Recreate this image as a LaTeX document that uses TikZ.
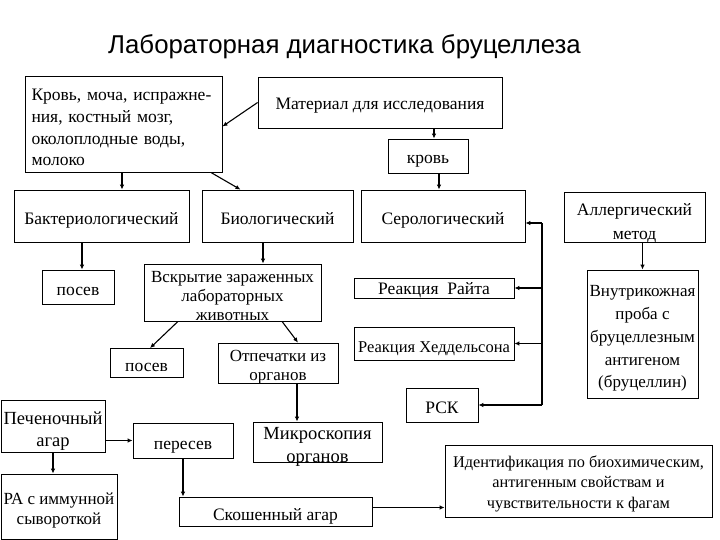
\documentclass[tikz,border=0pt]{standalone}
\usepackage{fontspec}
\setmainfont{Liberation Serif}
\newfontfamily\titlefont{Liberation Sans}
\usetikzlibrary{arrows.meta,calc}
\newcommand\mytopstrut[1]{\rule{0pt}{\dimexpr0.7\baselineskip+#1\relax}}
\begin{document}
\begin{tikzpicture}[x=1pt,y=-1pt,
  bxz/.style={draw,line width=0.8pt,inner sep=0pt,align=center,font=\fontsize{17.5}{20}\selectfont},
  bx0/.style={bxz,execute at end node=\strut},
  dn/.style={execute at begin node={\mytopstrut{#1}}},
  bx/.style={bx0,dn=9pt},
  txt/.style={inner sep=0pt,align=center},
  arr/.style={line width=1.1pt,-{Latex[length=5pt,width=4.5pt]}},
  ln/.style={line width=1.1pt}]
\useasboundingbox (0,0) rectangle (720,540);
\fill[white] (0,0) rectangle (720,540);
\node[font=\titlefont\fontsize{25.8}{30}\selectfont] (title) at (344.5,47) {Лабораторная диагностика бруцеллеза};
% boxes
\node[bx,align=left,text width=184pt,inner xsep=6.5pt,minimum height=85pt,font=\fontsize{17.5}{21.7}\selectfont] (blood) at (123.5,124.5) {Кровь, моча, испражне-\\ния, костный мозг,\\околоплодные воды,\\молоко};
\node[bx0,dn=6pt,minimum width=244pt,minimum height=51pt] (mat) at (380,102.5) {Материал для исследования};
\node[bx0,dn=7pt,minimum width=80pt,minimum height=34pt] (krov) at (428,156) {кровь};
\node[bx,minimum width=175pt,minimum height=52pt] (bact) at (101.5,216) {Бактериологический};
\node[bx,minimum width=151pt,minimum height=52pt] (bio) at (277.5,216) {Биологический};
\node[bx,minimum width=164pt,minimum height=52pt] (sero) at (443,216) {Серологический};
\node[bxz,minimum width=141pt,minimum height=50pt] (allerg) at (634.5,217) {};
\node[txt,font=\fontsize{17.5}{24}\selectfont] (allergT) at ([yshift=-6pt]allerg.center) {\strut Аллергический\\метод\strut};
\node[bx,minimum width=72pt,minimum height=34pt] (posevA) at (78,287) {посев};
\node[bxz,minimum width=177pt,minimum height=57pt] (vskr) at (232.5,292.5) {};
\node[txt,font=\fontsize{17}{19}\selectfont] (vskrT) at ([yshift=-4.8pt]vskr.center) {\strut Вскрытие зараженных\\лабораторных\\животных\strut};
\node[bxz,execute at begin node={\rule{0pt}{16pt}},minimum width=160pt,minimum height=20pt] (rayt) at (434,288) {Реакция\ \ Райта};
\node[bx,minimum width=160pt,minimum height=33pt,font=\fontsize{16.5}{20}\selectfont] (hedd) at (434,343.5) {Реакция Хеддельсона};
\node[bxz,minimum width=111pt,minimum height=128pt] (vnutr) at (642.5,334) {};
\node[txt,font=\fontsize{17}{22.7}\selectfont] (vnutrT) at ([yshift=-3.8pt]vnutr.center) {\strut Внутрикожная\\проба с\\бруцеллезным\\антигеном\\(бруцеллин)\strut};
\node[bx,minimum width=73pt,minimum height=28pt] (posevB) at (146.5,363) {посев};
\node[bxz,minimum width=120pt,minimum height=40pt] (otp) at (278,363) {};
\node[txt,font=\fontsize{17}{19}\selectfont] (otpT) at ([yshift=-4.6pt]otp.center) {\strut Отпечатки из\\органов\strut};
\node[bx,minimum width=72pt,minimum height=34pt] (rsk) at (442,405) {РСК};
\node[bxz,minimum width=104pt,minimum height=52pt] (pech) at (53,426) {};
\node[txt,font=\fontsize{18.5}{22}\selectfont] (pechT) at ([yshift=-4.8pt]pech.center) {\strut Печеночный\\агар\strut};
\node[bx,minimum width=100pt,minimum height=35pt] (peres) at (183,440.5) {пересев};
\node[bxz,minimum width=129pt,minimum height=40pt] (micro) at (317.5,442) {};
\node[txt,font=\fontsize{18.5}{23}\selectfont] (microT) at ([yshift=-4.1pt]micro.center) {\strut Микроскопия\\органов\strut};
\node[bxz,minimum width=116pt,minimum height=65pt] (ra) at (59,506.5) {};
\node[txt,font=\fontsize{17}{20}\selectfont] (raT) at ([yshift=-3.9pt]ra.center) {\strut РА с иммунной\\сывороткой\strut};
\node[bx,minimum width=193pt,minimum height=29pt] (skosh) at (275.5,511.5) {Скошенный агар};
\node[bxz,minimum width=267pt,minimum height=72pt] (ident) at (578.5,481) {};
\node[txt,font=\fontsize{16.3}{20.5}\selectfont] (identT) at ([yshift=-2.6pt]ident.center) {\strut Идентификация по биохимическим,\\антигенным свойствам и\\чувствительности к фагам\strut};
% connectors
\draw[arr] (mat.west) -- ($(blood.east)+(0,2)$);
\draw[arr] ([xshift=6pt]krov.north |- mat.south) -- ([xshift=6pt]krov.north);
\draw[arr] ([xshift=11pt]krov.south) -- ([xshift=11pt]krov.south |- sero.north);
\draw[arr] ([xshift=-1.5pt]blood.south) -- ([xshift=-1.5pt]blood.south |- bact.north);
\draw[arr] ([xshift=88pt]blood.south) -- ([xshift=-37pt]bio.north);
\draw[arr] ([xshift=4pt]posevA.north |- bact.south) -- ([xshift=4pt]posevA.north);
\draw[arr] ([xshift=-14.5pt]bio.south) -- ([xshift=-14.5pt]bio.south |- vskr.north);
\draw[arr] ([xshift=-54.5pt]vskr.south) -- ([xshift=3.5pt]posevB.north);
\draw[arr] ([xshift=49.5pt]vskr.south) -- ([xshift=20pt]otp.north);
\draw[arr] ([xshift=19pt]otp.south) -- ([xshift=19pt]otp.south |- micro.north);
\draw[arr] (peres.west -| pech.east) -- (peres.west);
\draw[arr] (pech.south) -- (pech.south |- ra.north);
\draw[arr] (peres.south) -- (peres.south |- skosh.north);
\draw[arr] ([yshift=4pt]skosh.east) -- ([yshift=4pt]skosh.east -| ident.west);
\draw[arr] (vnutr.north |- allerg.south) -- (vnutr.north);
\coordinate (bt) at (542,223);
\coordinate (bb) at (542,405);
\draw[ln] (bb) -- (bt);
\draw[arr] (bt) -- (bt -| sero.east);
\draw[arr] (bb) -- (rsk.east);
\draw[arr] (bb |- rayt.east) -- (rayt.east);
\draw[arr] (bb |- hedd.east) -- (hedd.east);
\end{tikzpicture}
\end{document}
